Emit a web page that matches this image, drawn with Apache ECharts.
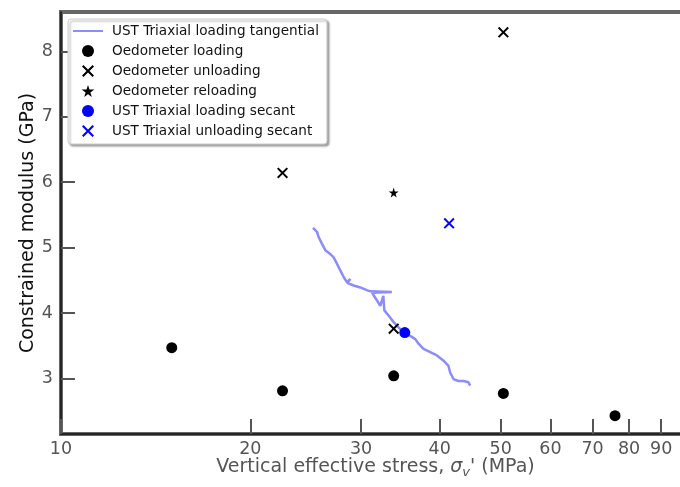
<!DOCTYPE html>
<html>
<head>
<meta charset="utf-8">
<script src="https://cdn.jsdelivr.net/npm/echarts@6/dist/echarts.min.js"></script>
<style>html,body{margin:0;padding:0;background:#fff;overflow:hidden;}#c{width:680px;height:487px;}</style>
</head>
<body>
<div id="c"></div>
<script>
// ---- data ----
const tangStress = [25.15, 25.53, 25.68, 25.99, 26.31, 26.80, 27.13, 27.47, 27.80, 28.14, 28.49, 28.85, 28.50, 29.19, 29.91, 30.64, 31.02, 33.57, 31.25, 31.40, 31.80, 32.18, 32.54, 32.66, 33.17, 33.79, 34.41, 35.05, 35.92, 36.58, 37.02, 37.70, 38.64, 39.60, 40.57, 41.31, 41.56, 42.07, 42.84, 43.64, 44.44, 44.72];
const tangModulus = [5.30, 5.24, 5.16, 5.06, 4.96, 4.90, 4.85, 4.75, 4.65, 4.55, 4.47, 4.52, 4.46, 4.42, 4.39, 4.35, 4.33, 4.32, 4.31, 4.27, 4.19, 4.11, 4.26, 4.04, 3.96, 3.86, 3.78, 3.70, 3.65, 3.60, 3.53, 3.45, 3.40, 3.35, 3.27, 3.19, 3.09, 2.99, 2.96, 2.96, 2.94, 2.89];

const oedLoadStress = [15.0, 22.5, 33.8, 50.5, 76.0];
const oedLoadModulus = [3.47, 2.81, 3.04, 2.77, 2.43];

const oedUnloadStress = [22.5, 50.5, 33.8];
const oedUnloadModulus = [6.14, 8.29, 3.76];

const oedReloadStress = [33.8];
const oedReloadModulus = [5.84];

const ustLoadSecStress = [35.2];
const ustLoadSecModulus = [3.70];

const ustUnloadSecStress = [41.4];
const ustUnloadSecModulus = [5.37];

const xTickValues = [10, 20, 30, 40, 50, 60, 70, 80, 90];
const yTickValues = [3, 4, 5, 6, 7, 8];

const seriesNames = [
  'UST Triaxial loading tangential',
  'Oedometer loading',
  'Oedometer unloading',
  'Oedometer reloading',
  'UST Triaxial loading secant',
  'UST Triaxial unloading secant'
];

// ---- helpers ----
const pairs = (xs, ys) => xs.map((x, i) => [x, ys[i]]);
const crossPath = 'path://M0,1.5L1.5,0L6,4.5L10.5,0L12,1.5L7.5,6L12,10.5L10.5,12L6,7.5L1.5,12L0,10.5L4.5,6Z';
const starPath = 'path://M50,0L61,35L98,35L68,57L79,91L50,70L21,91L32,57L2,35L39,35Z';

const chart = echarts.init(document.getElementById('c'), null, {renderer: 'canvas'});
chart.setOption({
  animation: false,
  backgroundColor: '#fff',
  textStyle: {fontFamily: 'DejaVu Sans'},
  grid: {
    left: 61, top: 12, right: -10, bottom: 53,
    outerBoundsMode: 'none', containLabel: false,
    show: true, borderColor: '#666', borderWidth: 4, backgroundColor: 'transparent'
  },
  legend: {
    orient: 'vertical',
    left: 68, top: 19,
    padding: [5, 8, 6, 4],
    itemWidth: 30, itemHeight: 12, itemGap: 6,
    backgroundColor: '#fff',
    borderColor: '#ccc', borderWidth: 1, borderRadius: 3,
    shadowColor: 'rgba(0,0,0,0.35)', shadowBlur: 2, shadowOffsetX: 2, shadowOffsetY: 2,
    textStyle: {fontSize: 13.6, lineHeight: 13, color: '#111', fontFamily: 'DejaVu Sans', padding: [0, 0, 0, 4]},
    data: [
      {name: seriesNames[0], itemStyle: {opacity: 0}, lineStyle: {color: '#8c8cff', width: 2, opacity: 1}},
      seriesNames[1], seriesNames[2], seriesNames[3], seriesNames[4], seriesNames[5]
    ]
  },
  xAxis: {
    type: 'log', logBase: 10, min: 10, max: 100,
    name: '{a|Vertical effective stress, }{s|σ}{v|v}{a|\' (MPa)}',
    nameLocation: 'middle', nameGap: 22, nameMoveOverlap: false,
    nameTextStyle: {
      rich: {
        a: {fontSize: 19, color: '#555', fontFamily: 'DejaVu Sans'},
        s: {fontSize: 19, color: '#555', fontStyle: 'italic', fontFamily: 'DejaVu Sans'},
        v: {fontSize: 13, color: '#555', fontStyle: 'italic', fontFamily: 'DejaVu Sans', padding: [10, 0, 0, 0]}
      }
    },
    axisLine: {show: true, lineStyle: {color: '#111', width: 1.5}},
    axisTick: {show: true, inside: true, length: 15, lineStyle: {color: '#555', width: 2}, customValues: xTickValues},
    axisLabel: {show: true, customValues: xTickValues, color: '#555', fontSize: 17.5, margin: 6},
    splitLine: {show: false},
    minorTick: {show: false}
  },
  yAxis: {
    type: 'value', min: 2.15, max: 8.6,
    name: 'Constrained modulus (GPa)',
    nameLocation: 'middle', nameGap: 23, nameMoveOverlap: false,
    nameTextStyle: {fontSize: 19, color: '#111', fontFamily: 'DejaVu Sans'},
    axisLine: {show: true, lineStyle: {color: '#111', width: 1.5}},
    axisTick: {show: true, inside: true, length: 14, lineStyle: {color: '#555', width: 2}, customValues: yTickValues},
    axisLabel: {show: true, customValues: yTickValues, color: '#555', fontSize: 17.5, margin: 8},
    splitLine: {show: false}
  },
  series: [
    {
      name: seriesNames[0], type: 'line', showSymbol: false, symbol: 'none',
      data: pairs(tangStress, tangModulus),
      lineStyle: {color: '#8c8cff', width: 2.5},
      itemStyle: {color: '#8c8cff'},
      z: 1
    },
    {
      name: seriesNames[1], type: 'scatter', symbol: 'circle', symbolSize: 11,
      data: pairs(oedLoadStress, oedLoadModulus),
      itemStyle: {color: '#000', opacity: 1}, z: 3
    },
    {
      name: seriesNames[2], type: 'scatter', symbol: crossPath, symbolSize: 11,
      data: pairs(oedUnloadStress, oedUnloadModulus),
      itemStyle: {color: '#000', opacity: 1}, z: 3
    },
    {
      name: seriesNames[3], type: 'scatter', symbol: starPath, symbolSize: 10,
      data: pairs(oedReloadStress, oedReloadModulus),
      itemStyle: {color: '#000', opacity: 1}, z: 3
    },
    {
      name: seriesNames[4], type: 'scatter', symbol: 'circle', symbolSize: 11,
      data: pairs(ustLoadSecStress, ustLoadSecModulus),
      itemStyle: {color: '#0000ff', opacity: 1}, z: 3
    },
    {
      name: seriesNames[5], type: 'scatter', symbol: crossPath, symbolSize: 11,
      data: pairs(ustUnloadSecStress, ustUnloadSecModulus),
      itemStyle: {color: '#0000ff', opacity: 1}, z: 3
    }
  ]
});
</script>
</body>
</html>
